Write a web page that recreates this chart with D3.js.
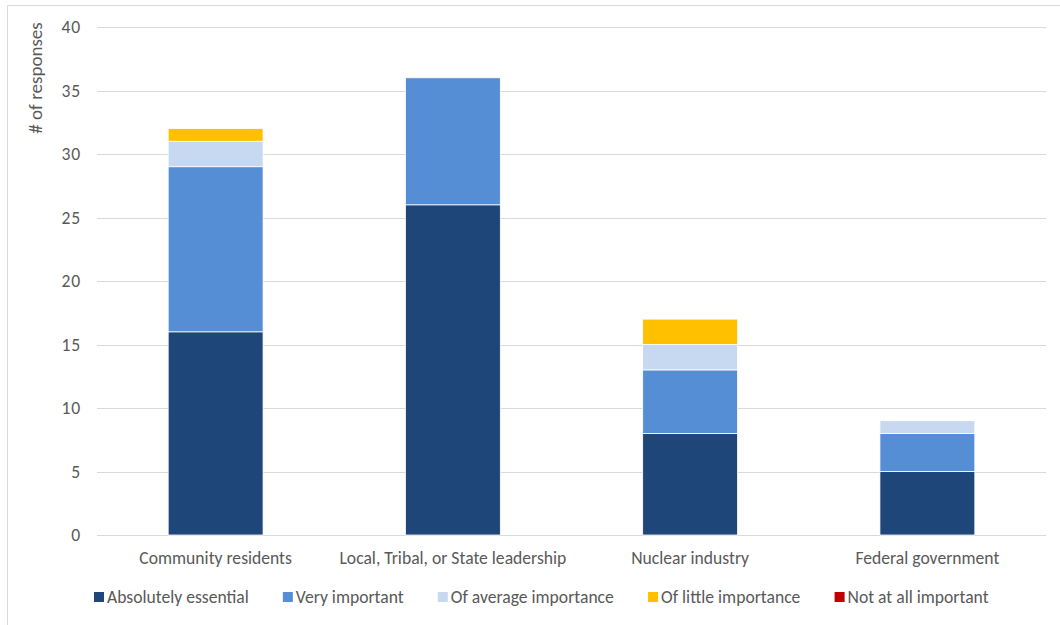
<!DOCTYPE html>
<html lang="en">
<head>
    <meta charset="UTF-8">
    <title>stacked bar</title>
    <script src="https://d3js.org/d3.v7.min.js"></script>
    <style>
        body { margin: 0; background: #fff; }
        text { font-family: Carlito, "Open Sans", "Liberation Sans", sans-serif; fill: #595959; font-size: 17.6px; }
    </style>
</head>
<body>
    <svg></svg>
    <script>
        const width = 1060;
        const height = 625;
        const margin = {left: 97, right: 14, top: 27, bottom: 90};
        const w = width - margin.left - margin.right;
        const h = height - margin.top - margin.bottom;

        const categories = ["Community residents", "Local, Tribal, or State leadership", "Nuclear industry", "Federal government"];
        const seriesNames = ["Absolutely essential", "Very important", "Of average importance", "Of little importance", "Not at all important"];
        const colors = ["#1f4678", "#558ed5", "#c6d9f1", "#ffc000", "#c00000"];
        const absolutelyEssential = [16, 26, 8, 5];
        const veryImportant = [13, 10, 5, 3];
        const averageImportance = [2, 0, 2, 1];
        const littleImportance = [1, 0, 2, 0];
        const notAtAllImportant = [0, 0, 0, 0];
        const yTicks = [0, 5, 10, 15, 20, 25, 30, 35, 40];

        const seriesValues = [absolutelyEssential, veryImportant, averageImportance, littleImportance, notAtAllImportant];
        const table = categories.map((c, i) => {
            const row = {category: c};
            seriesNames.forEach((s, j) => row[s] = seriesValues[j][i]);
            return row;
        });
        const stacked = d3.stack().keys(seriesNames)(table);

        const svg = d3.select("svg")
            .attr("width", width)
            .attr("height", height);

        // outer frame
        svg.append("rect")
            .attr("x", 7.5).attr("y", 5.5)
            .attr("width", width + 10).attr("height", height + 10)
            .attr("fill", "none").attr("stroke", "#d9d9d9");

        const x = d3.scaleBand()
            .domain(categories)
            .range([0, w])
            .paddingInner(0.6)
            .paddingOuter(0.3);

        const y = d3.scaleLinear()
            .domain([0, 40])
            .range([h, 0]);

        const g = svg.append("g")
            .attr("transform", `translate(${margin.left}, ${margin.top})`);

        // gridlines
        g.append("g")
            .selectAll("line")
            .data(yTicks)
            .enter()
            .append("line")
                .attr("x1", 0).attr("x2", w)
                .attr("y1", d => Math.round(y(d)) + 0.5)
                .attr("y2", d => Math.round(y(d)) + 0.5)
                .attr("stroke", "#d9d9d9")
                .attr("stroke-width", 1.2);

        // y tick labels
        g.append("g")
            .selectAll("text")
            .data(yTicks)
            .enter()
            .append("text")
                .attr("x", -16)
                .attr("y", d => y(d))
                .attr("dy", "0.35em")
                .attr("text-anchor", "end")
                .style("letter-spacing", "0.8px")
                .text(d => d);

        // bars
        g.append("g")
            .selectAll("g")
            .data(stacked)
            .enter()
            .append("g")
                .attr("fill", (d, i) => colors[i])
            .selectAll("rect")
            .data(d => d)
            .enter()
            .append("rect")
                .attr("x", d => x(d.data.category))
                .attr("y", d => y(d[1]))
                .attr("width", x.bandwidth())
                .attr("height", d => y(d[0]) - y(d[1]))
                .attr("stroke", "#fff")
                .attr("stroke-width", d => (d[1] - d[0]) > 0 ? 0.8 : 0);

        // x labels
        g.append("g")
            .selectAll("text")
            .data(categories)
            .enter()
            .append("text")
                .attr("x", d => x(d) + x.bandwidth() / 2)
                .attr("y", h + 29)
                .attr("text-anchor", "middle")
                .text(d => d);

        // y axis title
        svg.append("text")
            .attr("transform", "translate(42, 78) rotate(-90)")
            .attr("text-anchor", "middle")
            .style("font-size", "19px")
            .text("# of responses");

        // legend
        const legend = svg.append("g").attr("transform", "translate(0, 597)");
        const items = legend.selectAll("g")
            .data(seriesNames)
            .enter()
            .append("g");
        items.append("rect")
            .attr("x", 0).attr("y", -5)
            .attr("width", 10).attr("height", 10)
            .attr("fill", (d, i) => colors[i]);
        items.append("text")
            .attr("x", 13)
            .attr("dy", "0.35em")
            .text(d => d);
        let pos = 94;
        items.each(function() {
            d3.select(this).attr("transform", `translate(${pos}, 0)`);
            pos += this.getBBox().width + 34;
        });
    </script>
</body>
</html>
